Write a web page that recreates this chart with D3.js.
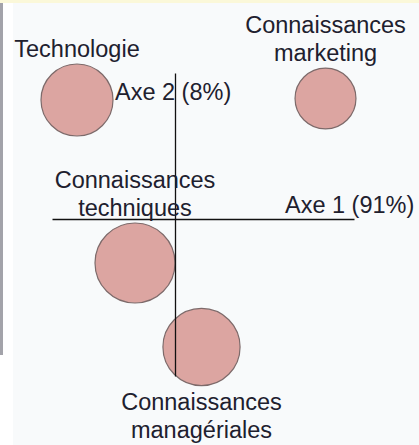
<!DOCTYPE html>
<html lang="fr">
<head>
    <meta charset="UTF-8">
    <title>Axes</title>
    <script src="https://d3js.org/d3.v7.min.js"></script>
    <style>
        body { margin: 0; background: #fff; }
        .label {
            fill: #20202e;
            font-family: "Liberation Sans", Arial, sans-serif;
            font-size: 23.5px;
            text-anchor: middle;
        }
        .axis-label { text-anchor: start; }
        .axis .domain { stroke: #111; stroke-width: 1.3; }
        .bubble { fill: #dca5a1; stroke: #7d6a6a; stroke-width: 1.2; }
    </style>
</head>
<body>
<script>
    const width = 419, height = 445;

    // points on the factorial plane
    const names = [["Technologie"], ["Connaissances", "marketing"],
                   ["Connaissances", "techniques"], ["Connaissances", "managériales"]];
    const axis1 = [-0.98, 1.505, -0.40, 0.265];
    const axis2 = [1.19, 1.205, -0.44, -1.28];
    const weight = [81, 58, 100, 93];
    const labelBelow = [false, false, false, true];
    const axisNames = ["Axe 1 (91%)", "Axe 2 (8%)"];

    const x = d3.scaleLinear().domain([-1.23, 1.79]).range([52, 354]);
    const y = d3.scaleLinear().domain([1.46, -1.57]).range([73, 376]);
    const r = d3.scaleSqrt().domain([0, 100]).range([0, 40]);

    const svg = d3.select("body").append("svg")
        .attr("width", width).attr("height", height);

    // frame of the screenshot
    svg.append("rect").attr("x", 13).attr("y", 3)
        .attr("width", width - 13).attr("height", height - 3).attr("fill", "#f8fafb");
    svg.append("rect").attr("x", 0).attr("y", 0)
        .attr("width", width).attr("height", 3).attr("fill", "#fbf8d9");
    svg.append("rect").attr("x", 0).attr("y", 3)
        .attr("width", 3).attr("height", 352).attr("fill", "#a3a3aa");

    const pts = names.map((n, i) => ({
        lines: n, cx: x(axis1[i]), cy: y(axis2[i]), r: r(weight[i]), below: labelBelow[i]
    }));

    svg.selectAll("circle.bubble").data(pts).join("circle")
        .attr("class", "bubble")
        .attr("cx", d => d.cx).attr("cy", d => d.cy).attr("r", d => d.r);

    // axes without ticks, crossing at the origin
    svg.append("g").attr("class", "axis")
        .attr("transform", `translate(0,${y(0)})`)
        .call(d3.axisBottom(x).tickValues([]).tickSizeOuter(0));
    svg.append("g").attr("class", "axis")
        .attr("transform", `translate(${x(0)},0)`)
        .call(d3.axisLeft(y).tickValues([]).tickSizeOuter(0));

    const lineH = 28;
    const labels = svg.selectAll("text.pt").data(pts).join("text")
        .attr("class", "label pt")
        .attr("x", d => d.cx)
        .attr("y", d => d.below ? d.cy + d.r + 24
                                : d.cy - d.r - 7 - (d.lines.length - 1) * lineH);
    labels.selectAll("tspan").data(d => d.lines.map(t => ({t, cx: d.cx}))).join("tspan")
        .attr("x", d => d.cx)
        .attr("dy", (d, i) => i ? lineH : 0)
        .text(d => d.t);

    svg.append("text").attr("class", "label axis-label")
        .attr("x", x(1.1)).attr("y", y(0) - 6).text(axisNames[0]);
    svg.append("text").attr("class", "label axis-label")
        .attr("x", x(-0.6)).attr("y", y(1.19)).text(axisNames[1]);
</script>
</body>
</html>
